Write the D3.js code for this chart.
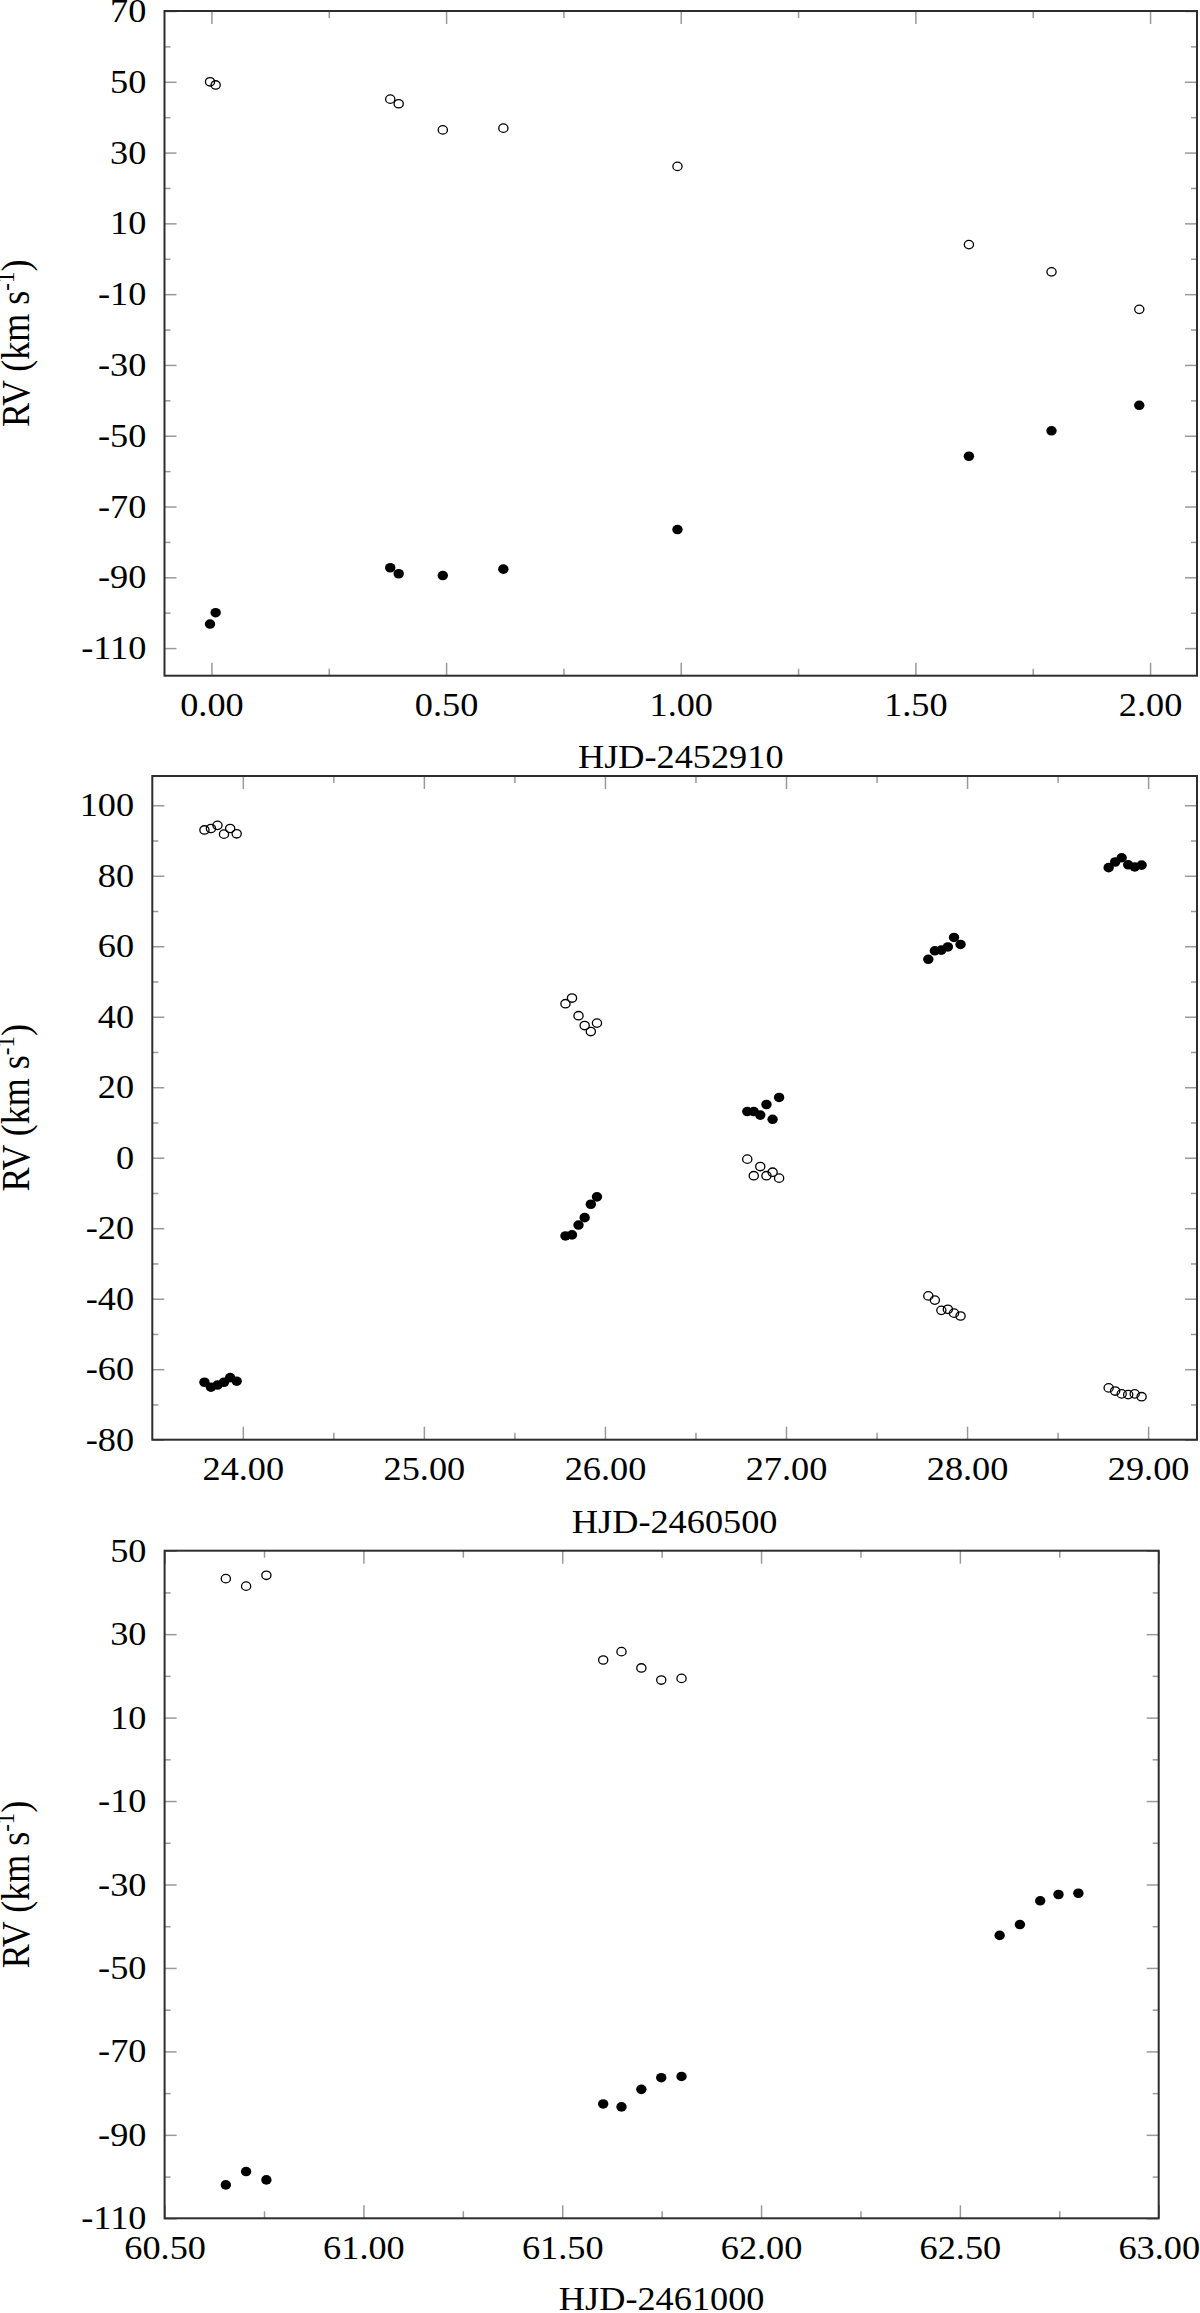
<!DOCTYPE html>
<html>
<head>
<meta charset="utf-8">
<script src="https://cdn.jsdelivr.net/npm/d3@7"></script>
<style>
body { margin: 0; background: #fff; }
svg text { font-family: "Liberation Serif", "Times New Roman", serif; fill: #000; }
</style>
</head>
<body>
<svg id="chart" width="1200" height="2313"></svg>
<script>
// ---- panel 1 : HJD-2452910
var p1Time = [-0.003, 0.009, 0.381, 0.399, 0.493, 0.622, 0.993, 1.614, 1.790, 1.977];
var p1Open = [50.0, 49.1, 45.1, 43.8, 36.4, 36.9, 26.1, 4.0, -3.7, -14.3];
var p1Filled = [-103.2, -100.0, -87.3, -89.0, -89.5, -87.7, -76.5, -55.8, -48.6, -41.4];
var p1XTicks = [0, 0.5, 1, 1.5, 2];
var p1XMinor = [0.25, 0.75, 1.25, 1.75];
var p1YTicks = [-110, -90, -70, -50, -30, -10, 10, 30, 50, 70];
var p1YMinor = [-100, -80, -60, -40, -20, 0, 20, 40, 60];

// ---- panel 2 : HJD-2460500
var p2Time = [23.788, 23.824, 23.860, 23.896, 23.930, 23.966,
              25.782, 25.818, 25.854, 25.888, 25.922, 25.956,
              26.786, 26.822, 26.858, 26.892, 26.926, 26.962,
              27.786, 27.822, 27.858, 27.894, 27.928, 27.964,
              28.782, 28.818, 28.854, 28.890, 28.926, 28.964];
var p2Open = [93.0, 93.4, 94.3, 91.8, 93.4, 91.9,
              43.7, 45.3, 40.3, 37.5, 35.8, 38.2,
              -0.4, -5.1, -2.5, -5.1, -4.1, -5.8,
              -39.2, -40.4, -43.3, -43.0, -44.1, -44.9,
              -65.3, -66.2, -67.0, -67.2, -67.0, -67.8];
var p2Filled = [-63.7, -65.1, -64.5, -63.7, -62.4, -63.4,
                -22.2, -21.9, -19.1, -17.0, -13.2, -11.1,
                13.1, 13.1, 12.1, 15.1, 10.9, 17.1,
                56.3, 58.7, 58.9, 59.8, 62.5, 60.5,
                82.3, 83.9, 85.1, 83.1, 82.5, 83.0];
var p2XTicks = [24, 25, 26, 27, 28, 29];
var p2XMinor = [24.5, 25.5, 26.5, 27.5, 28.5];
var p2YTicks = [-80, -60, -40, -20, 0, 20, 40, 60, 80, 100];
var p2YMinor = [-70, -50, -30, -10, 10, 30, 50, 70, 90];

// ---- panel 3 : HJD-2461000
var p3Time = [60.654, 60.705, 60.756, 61.603, 61.649, 61.699, 61.749, 61.800,
              62.600, 62.651, 62.702, 62.748, 62.798];
var p3Open = [43.3, 41.5, 44.1, 23.8, 25.8, 21.9, 19.0, 19.4,
              null, null, null, null, null];
var p3Filled = [-102.0, -98.8, -100.8, -82.6, -83.3, -79.1, -76.3, -76.0,
                -42.2, -39.6, -33.9, -32.4, -32.1];
var p3XTicks = [60.5, 61, 61.5, 62, 62.5, 63];
var p3XMinor = [60.75, 61.25, 61.75, 62.25, 62.75];
var p3YTicks = [-110, -90, -70, -50, -30, -10, 10, 30, 50];
var p3YMinor = [-100, -80, -60, -40, -20, 0, 20, 40];

var svg = d3.select("#chart");
var stretch = "scale(1.1,1)";

function drawPanel(p) {
  var x = d3.scaleLinear().domain(p.xDomain).range([p.left, p.right]);
  var y = d3.scaleLinear().domain(p.yDomain).range([p.bottom, p.top]);
  var g = svg.append("g");

  // inward ticks on all four sides
  function addAxis(axisFn, scale, values, size, pos, fmt, pad) {
    var a = axisFn(scale).tickValues(values).tickSizeInner(-size).tickSizeOuter(0)
      .tickPadding(pad || 0).tickFormat(fmt || function() { return ""; });
    var ag = g.append("g").attr("transform", pos).call(a);
    ag.select(".domain").remove();
    ag.selectAll("line").attr("stroke", "#9a9a9a").attr("stroke-width", 1.5);
    ag.selectAll("text").attr("font-size", 33).attr("transform", stretch);
    return ag;
  }
  var xfmt = function(d) { return d.toFixed(2); };
  var yfmt = function(d) { return String(d); };   // plain hyphen, like the original

  addAxis(d3.axisBottom, x, p.xTicks, 13, "translate(0," + p.bottom + ")", xfmt, 17);
  addAxis(d3.axisBottom, x, p.xMinor, 7, "translate(0," + p.bottom + ")");
  addAxis(d3.axisTop, x, p.xTicks, 13, "translate(0," + p.top + ")");
  addAxis(d3.axisTop, x, p.xMinor, 7, "translate(0," + p.top + ")");
  addAxis(d3.axisLeft, y, p.yTicks, 12, "translate(" + p.left + ",0)", yfmt, 16.5);
  addAxis(d3.axisLeft, y, p.yMinor, 6, "translate(" + p.left + ",0)");
  addAxis(d3.axisRight, y, p.yTicks, 12, "translate(" + p.right + ",0)");
  addAxis(d3.axisRight, y, p.yMinor, 6, "translate(" + p.right + ",0)");

  // frame
  g.append("rect")
    .attr("x", p.left).attr("y", p.top)
    .attr("width", p.right - p.left).attr("height", p.bottom - p.top)
    .attr("fill", "none").attr("stroke", "#2e2e2e").attr("stroke-width", 2);

  var rows = p.time.map(function(t, i) { return {t: t, open: p.open[i], filled: p.filled[i]}; });

  g.selectAll("ellipse.filled")
    .data(rows.filter(function(d) { return d.filled != null; }))
    .enter().append("ellipse")
      .attr("class", "filled")
      .attr("cx", function(d) { return x(d.t); })
      .attr("cy", function(d) { return y(d.filled); })
      .attr("rx", 5.2).attr("ry", 4.8)
      .attr("fill", "#000");

  g.selectAll("ellipse.open")
    .data(rows.filter(function(d) { return d.open != null; }))
    .enter().append("ellipse")
      .attr("class", "open")
      .attr("cx", function(d) { return x(d.t); })
      .attr("cy", function(d) { return y(d.open); })
      .attr("rx", 4.6).attr("ry", 4.2)
      .attr("fill", "none").attr("stroke", "#000").attr("stroke-width", 1.3);

  // axis titles
  g.append("text")
    .attr("transform", "translate(" + ((p.left + p.right) / 2) + "," + p.titleY + ") " + stretch)
    .attr("text-anchor", "middle")
    .attr("font-size", 33)
    .text(p.xTitle);

  var yt = g.append("text")
    .attr("transform", "translate(29," + ((p.top + p.bottom) / 2) + ") " + stretch + " rotate(-90)")
    .attr("text-anchor", "middle")
    .attr("font-size", 36);
  yt.append("tspan").text("RV (km s");
  yt.append("tspan").attr("font-size", 23).attr("dy", -14).text("-1");
  yt.append("tspan").attr("dy", 14).text(")");
}

drawPanel({
  left: 164.5, right: 1197, top: 11, bottom: 675.7,
  xDomain: [-0.1, 2.1], yDomain: [-117.8, 70],
  xTicks: p1XTicks, xMinor: p1XMinor, yTicks: p1YTicks, yMinor: p1YMinor,
  time: p1Time, open: p1Open, filled: p1Filled,
  xTitle: "HJD-2452910", titleY: 768
});

drawPanel({
  left: 152.3, right: 1197, top: 776, bottom: 1439.7,
  xDomain: [23.5, 29.27], yDomain: [-80, 108.3],
  xTicks: p2XTicks, xMinor: p2XMinor, yTicks: p2YTicks, yMinor: p2YMinor,
  time: p2Time, open: p2Open, filled: p2Filled,
  xTitle: "HJD-2460500", titleY: 1533
});

drawPanel({
  left: 164.6, right: 1158.7, top: 1550.7, bottom: 2218.3,
  xDomain: [60.5, 63], yDomain: [-110, 50],
  xTicks: p3XTicks, xMinor: p3XMinor, yTicks: p3YTicks, yMinor: p3YMinor,
  time: p3Time, open: p3Open, filled: p3Filled,
  xTitle: "HJD-2461000", titleY: 2310
});
</script>
</body>
</html>
